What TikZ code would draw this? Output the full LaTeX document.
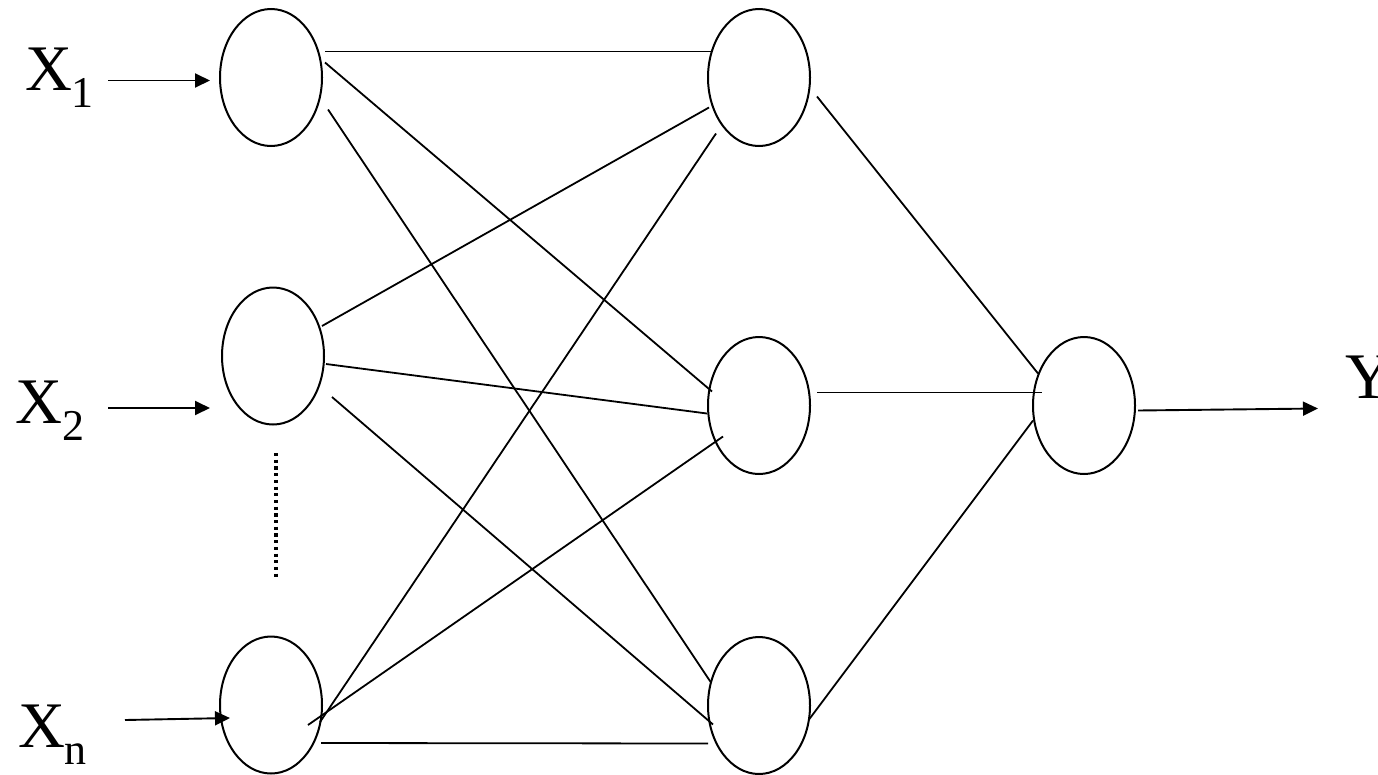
\documentclass[tikz,border=0pt]{standalone}
\usepackage{fontspec}
\setmainfont{Liberation Serif}
\usetikzlibrary{shapes.geometric,arrows.meta,calc}
\tikzset{
  neuron/.style={draw, line width=2pt, ellipse, inner sep=0pt, minimum width=102pt, minimum height=137pt},
  link/.style={line width=1.8pt},
  inarrow/.style={line width=1.9pt, -{Triangle[length=15pt,width=14pt]}},
  lbl/.style={anchor=base west, inner sep=0pt, outer sep=0pt},
  dotline/.style={line width=3.2pt, dash pattern=on 3.2pt off 3.5pt}
}
\newcommand{\biglbl}[2]{{\fontsize{65}{65}\selectfont #1}\raisebox{-17pt}{\fontsize{44}{44}\selectfont #2}}
\begin{document}
\begin{tikzpicture}[x=1pt,y=-1pt]
\useasboundingbox (0,0) rectangle (1378,774);
% neurons
\node[neuron] (I1) at (271,77.5) {};
\node[neuron] (I2) at (273,356) {};
\node[neuron] (In) at (271,705) {};
\node[neuron] (H1) at (759,77.5) {};
\node[neuron] (H2) at (759,405.5) {};
\node[neuron] (H3) at (759,705.5) {};
\node[neuron] (O) at (1084,405.5) {};
% labels
\node[lbl] (X1) at (25,90) {\biglbl{X}{1}};
\node[lbl] (X2) at (16,423) {\biglbl{X}{2}};
\node[lbl] (Xn) at (18,747) {\biglbl{X}{n}};
\node[lbl] (Y) at (1345,398) {{\fontsize{65}{65}\selectfont Y}};
% input arrows
\draw[inarrow] ($(I1)+(-163,3)$) -- ($(I1)+(-61,3)$);
\draw[inarrow] ($(I2)+(-165,52)$) -- ($(I2)+(-63,52)$);
\draw[inarrow] ($(In)+(-146,15)$) -- ($(In)+(-41,13)$);
\draw[inarrow] ($(O)+(54,5)$) -- ($(O)+(234,3)$);
% dotted
\draw[dotline] ($(I2)+(3,97)$) -- ($(In)+(5,-125)$);
% input -> hidden
\draw[link] ($(I1)+(54,-26)$) -- ($(H1)+(-47,-26)$);
\draw[link] ($(I1)+(54,-15)$) -- ($(H2)+(-47,-14)$);
\draw[link] ($(I1)+(57,32)$) -- ($(H3)+(-48,-23)$);
\draw[link] ($(I2)+(49,-30)$) -- ($(H1)+(-50,30)$);
\draw[link] ($(I2)+(53,8)$) -- ($(H2)+(-52,8)$);
\draw[link] ($(I2)+(59,41)$) -- ($(H3)+(-46,19)$);
\draw[link] ($(In)+(49,17)$) -- ($(H1)+(-43,56)$);
\draw[link] ($(In)+(37,20)$) -- ($(H2)+(-36,31)$);
\draw[link] ($(In)+(50,38)$) -- ($(H3)+(-51,38)$);
% hidden -> output
\draw[link] ($(H1)+(58,19)$) -- ($(O)+(-46,-32)$);
\draw[link] ($(H2)+(58,-13)$) -- ($(O)+(-42,-13)$);
\draw[link] ($(H3)+(50,14)$) -- ($(O)+(-51,15)$);
\end{tikzpicture}
\end{document}
